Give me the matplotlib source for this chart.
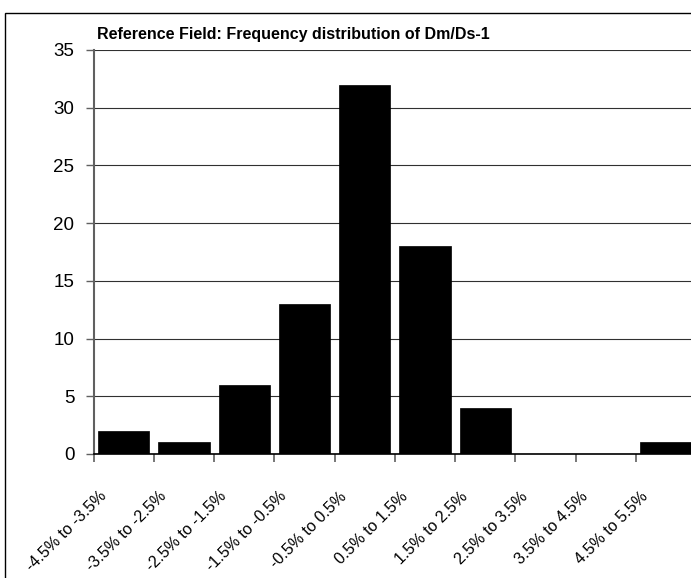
import matplotlib
matplotlib.use("Agg")
import matplotlib.pyplot as plt
from matplotlib.patches import Rectangle
from matplotlib.transforms import ScaledTranslation
import numpy as np

categories = ["-4.5% to -3.5%", "-3.5% to -2.5%", "-2.5% to -1.5%", "-1.5% to -0.5%",
              "-0.5% to 0.5%", "0.5% to 1.5%", "1.5% to 2.5%", "2.5% to 3.5%",
              "3.5% to 4.5%", "4.5% to 5.5%"]
counts = [2, 1, 6, 13, 32, 18, 4, 0, 0, 1]
title = "Reference Field: Frequency distribution of Dm/Ds-1"
yticks = [0, 5, 10, 15, 20, 25, 30, 35]

plt.rcParams['font.family'] = ['Liberation Sans', 'DejaVu Sans']

W, H = 691, 578
fig = plt.figure(figsize=(W / 100, H / 100), dpi=100)

# outer chart border (partially cropped)
fig.patches.append(Rectangle((5.5 / W, -0.2), 1.3, 1.2 - 13 / H, transform=fig.transFigure,
                             fill=False, edgecolor='black', linewidth=1.0, clip_on=False))

left = 93.7 / W
bottom = (H - 454) / H
width = 602.3 / W
height = 404 / H
ax = fig.add_axes([left, bottom, width, height])

x = np.arange(len(categories))
ax.bar(x, counts, width=0.85, color='black', edgecolor='black', linewidth=0.5, zorder=3)

ax.set_xlim(-0.5, len(categories) - 0.5)
ax.set_ylim(0, 35)
ax.set_yticks(yticks)
ax.set_yticklabels([str(v) for v in yticks], fontsize=13.5)
ax.yaxis.grid(True, color='#303030', linewidth=0.8, zorder=0)
ax.set_axisbelow(True)

ax.set_xticks(x)
ax.set_xticklabels(categories, fontsize=11.5, rotation=45, ha='right', va='center',
                   rotation_mode='anchor')
ax.set_xticks(np.arange(len(categories) + 1) - 0.5, minor=True)
ax.tick_params(axis='x', which='major', length=0, pad=0)
ax.tick_params(axis='x', which='minor', length=6, width=1.2, color='#606060', direction='out')
ax.tick_params(axis='y', length=6, width=1.0, color='#606060', pad=8)

off = ScaledTranslation(-20 / 100, -40 / 100, fig.dpi_scale_trans)
for lbl in ax.get_xticklabels():
    lbl.set_transform(lbl.get_transform() + off)

for s in ['top', 'right']:
    ax.spines[s].set_visible(False)
ax.spines['left'].set_color('#606060')
ax.spines['left'].set_linewidth(1.5)
ax.spines['bottom'].set_color('black')
ax.spines['bottom'].set_linewidth(1.2)

fig.text(293 / W, 1 - 34 / H, title, fontsize=11.5, fontweight='bold', ha='center', va='center')

fig.savefig("out.png", dpi=100)
